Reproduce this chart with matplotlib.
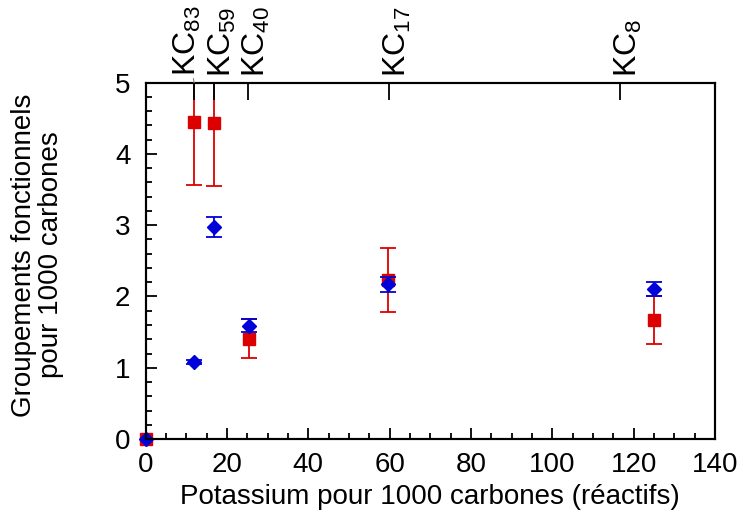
import matplotlib
matplotlib.use("Agg")
import matplotlib.pyplot as plt
from matplotlib.ticker import MultipleLocator

plt.rcParams['font.family'] = ['Liberation Sans', 'DejaVu Sans']
plt.rcParams['mathtext.fontset'] = 'custom'
plt.rcParams['mathtext.rm'] = 'Liberation Sans'
plt.rcParams['mathtext.default'] = 'regular'

# data
x_red = [0, 12.0, 16.9, 25.3, 59.7, 125]
y_red = [0, 4.45, 4.44, 1.41, 2.23, 1.67]
err_red = [0, 0.89, 0.89, 0.28, 0.45, 0.34]

x_blue = [0, 12.0, 16.9, 25.3, 59.7, 125]
y_blue = [0, 1.08, 2.97, 1.59, 2.17, 2.11]
err_blue = [0, 0.03, 0.14, 0.09, 0.10, 0.10]

kc_pos = [11.9, 16.8, 25.2, 59.9, 116.7]
kc_labels = ['KC$_{83}$', 'KC$_{59}$', 'KC$_{40}$', 'KC$_{17}$', 'KC$_{8}$']

red = '#DD0000'
blue = '#0000D8'

fig = plt.figure(figsize=(7.41, 5.13), dpi=100)
ax = fig.add_axes([0.1966, 0.1442, 0.7683, 0.6946])

l1, c1, b1 = ax.errorbar(x_red, y_red, yerr=err_red, fmt='s', color=red, ms=8,
                         ecolor=red, elinewidth=1.3, capsize=5.5, capthick=1.3, zorder=3)
l2, c2, b2 = ax.errorbar(x_blue, y_blue, yerr=err_blue, fmt='D', color=blue, ms=7.5,
                         ecolor=blue, elinewidth=1.3, capsize=5.5, capthick=1.3, zorder=4)
l1.set_clip_on(False)
l2.set_clip_on(False)

ax.set_xlim(0, 140)
ax.set_ylim(0, 5)
ax.xaxis.set_major_locator(MultipleLocator(20))
ax.xaxis.set_minor_locator(MultipleLocator(5))
ax.yaxis.set_major_locator(MultipleLocator(1))
ax.yaxis.set_minor_locator(MultipleLocator(0.2))
ax.tick_params(which='both', direction='in', top=False, right=False, width=1.3,
               labelsize=20)
ax.tick_params(axis='y', pad=11)
ax.tick_params(axis='x', pad=9)
ax.tick_params(which='major', length=8)
ax.tick_params(which='minor', length=4.5)
for s in ax.spines.values():
    s.set_linewidth(1.5)

ax.set_xlabel('Potassium pour 1000 carbones (réactifs)', fontsize=20, labelpad=5)
fig.text(0.051, 0.503, 'Groupements fonctionnels\npour 1000 carbones', rotation=90,
         ha='center', va='center', multialignment='center', fontsize=20,
         linespacing=1.05)

# top axis with the KC samples
ax2 = ax.twiny()
ax2.set_xlim(ax.get_xlim())
ax2.set_xticks(kc_pos)
ax2.set_xticklabels([])
ax2.tick_params(axis='x', direction='in', length=12, width=1.3)
for s in ax2.spines.values():
    s.set_linewidth(1.5)

for i, (p, lab) in enumerate(zip(kc_pos, kc_labels)):
    if i == 0:
        ax2.annotate(lab, xy=(p, 1), xycoords=('data', 'axes fraction'),
                     xytext=(-5, 5), textcoords='offset points', rotation=90,
                     ha='center', va='bottom', fontsize=23,
                     arrowprops=dict(arrowstyle='-', color='gray', lw=0.8,
                                     shrinkA=0, shrinkB=0))
    else:
        ax2.annotate(lab, xy=(p, 1), xycoords=('data', 'axes fraction'),
                     xytext=(6, 4), textcoords='offset points', rotation=90,
                     ha='center', va='bottom', fontsize=23)

fig.savefig('out.png', dpi=100)
